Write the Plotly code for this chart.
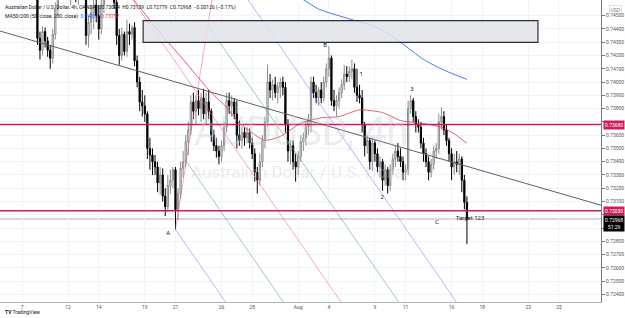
import plotly.graph_objects as go

# ---- data (AUD/USD 4h, OANDA) ----
# bar index: 6 bars per trading day, day 0 = Jul 6; first bar index = -2
first_bar = -2
bars_per_day = 6

close = [
    0.7528, 0.7530,
    0.7540, 0.7570, 0.7580, 0.7540, 0.7505, 0.7490,
    0.7495, 0.7500, 0.7478, 0.7470, 0.7482, 0.7485,
    0.7433, 0.7424, 0.7438, 0.7431, 0.7424, 0.7418,
    0.7436, 0.7455, 0.7468, 0.7472, 0.7478, 0.7480,
    0.7468, 0.7474, 0.7470, 0.7465, 0.7470, 0.7475,
    0.7495, 0.7435, 0.7445, 0.7452, 0.7458, 0.7450,
    0.7440, 0.7458, 0.7475, 0.7485, 0.7478, 0.7470,
    0.7460, 0.7435, 0.7420, 0.7436, 0.7423, 0.7438,
    0.7436, 0.7441, 0.7416, 0.7400, 0.7385, 0.7382,
    0.7376, 0.7350, 0.7345, 0.7340, 0.7336, 0.7324,
    0.7330, 0.7314, 0.7306, 0.7322, 0.7326, 0.7334,
    0.7304, 0.7316, 0.7335, 0.7340, 0.7355, 0.7364,
    0.7385, 0.7378, 0.7386, 0.7380, 0.7388, 0.7376,
    0.7385, 0.7378, 0.7360, 0.7352, 0.7348, 0.7344,
    0.7352, 0.7366, 0.7386, 0.7382, 0.7385, 0.7376,
    0.7360, 0.7356, 0.7362, 0.7358, 0.7362, 0.7354,
    0.7346, 0.7332, 0.7326, 0.7340, 0.7356, 0.7370,
    0.7400, 0.7394, 0.7398, 0.7392, 0.7396, 0.7400,
    0.7396, 0.7368, 0.7348, 0.7352, 0.7340, 0.7336,
    0.7344, 0.7355, 0.7358, 0.7366, 0.7372, 0.7400,
    0.7392, 0.7388, 0.7394, 0.7388, 0.7400, 0.7410,
    0.7418, 0.7386, 0.7382, 0.7386, 0.7392, 0.7398,
    0.7406, 0.7404, 0.7408, 0.7410, 0.7396, 0.7390,
    0.7388, 0.7368, 0.7352, 0.7356, 0.7340, 0.7354,
    0.7346, 0.7336, 0.7340, 0.7326, 0.7334, 0.7322,
    0.7334, 0.7342, 0.7348, 0.7344, 0.7340, 0.7332,
    0.7334, 0.7380, 0.7386, 0.7374, 0.7368, 0.7366,
    0.7354, 0.7346, 0.7340, 0.7332, 0.7338, 0.7348,
    0.7350, 0.7370, 0.7374, 0.7364, 0.7356, 0.7346,
    0.7336, 0.7340, 0.7338, 0.7342, 0.7326, 0.73094,
    0.72968,
]

open_ = [
    0.7525, 0.7528,
    0.7530, 0.7540, 0.7570, 0.7580, 0.7540, 0.7505,
    0.7490, 0.7495, 0.7500, 0.7478, 0.7470, 0.7482,
    0.7485, 0.7433, 0.7424, 0.7438, 0.7431, 0.7424,
    0.7418, 0.7436, 0.7455, 0.7468, 0.7472, 0.7478,
    0.7480, 0.7468, 0.7474, 0.7470, 0.7465, 0.7470,
    0.7475, 0.7495, 0.7435, 0.7445, 0.7452, 0.7458,
    0.7450, 0.7440, 0.7458, 0.7475, 0.7485, 0.7478,
    0.7470, 0.7460, 0.7435, 0.7420, 0.7436, 0.7423,
    0.7438, 0.7436, 0.7441, 0.7416, 0.7400, 0.7385,
    0.7382, 0.7376, 0.7350, 0.7345, 0.7340, 0.7336,
    0.7324, 0.7330, 0.7314, 0.7306, 0.7322, 0.7326,
    0.7334, 0.7304, 0.7316, 0.7335, 0.7340, 0.7355,
    0.7364, 0.7385, 0.7378, 0.7386, 0.7380, 0.7388,
    0.7376, 0.7385, 0.7378, 0.7360, 0.7352, 0.7348,
    0.7344, 0.7352, 0.7366, 0.7386, 0.7382, 0.7385,
    0.7376, 0.7360, 0.7356, 0.7362, 0.7358, 0.7362,
    0.7354, 0.7346, 0.7332, 0.7326, 0.7340, 0.7356,
    0.7370, 0.7400, 0.7394, 0.7398, 0.7392, 0.7396,
    0.7400, 0.7396, 0.7368, 0.7348, 0.7352, 0.7340,
    0.7336, 0.7344, 0.7355, 0.7358, 0.7366, 0.7372,
    0.7400, 0.7392, 0.7388, 0.7394, 0.7388, 0.7400,
    0.7410, 0.7418, 0.7386, 0.7382, 0.7386, 0.7392,
    0.7398, 0.7406, 0.7404, 0.7408, 0.7410, 0.7396,
    0.7390, 0.7388, 0.7368, 0.7352, 0.7356, 0.7340,
    0.7354, 0.7346, 0.7336, 0.7340, 0.7326, 0.7334,
    0.7322, 0.7334, 0.7342, 0.7348, 0.7344, 0.7340,
    0.7332, 0.7334, 0.7380, 0.7386, 0.7374, 0.7368,
    0.7366, 0.7354, 0.7346, 0.7340, 0.7332, 0.7338,
    0.7348, 0.7350, 0.7370, 0.7374, 0.7364, 0.7356,
    0.7346, 0.7336, 0.7340, 0.7338, 0.7342, 0.7326,
    0.73094,
]

high = [
    0.7532, 0.7535,
    0.7545, 0.7575, 0.7599, 0.7585, 0.7548, 0.7515,
    0.7500, 0.7510, 0.7505, 0.7490, 0.7488, 0.7492,
    0.7488, 0.7438, 0.7442, 0.7441, 0.7434, 0.7428,
    0.7440, 0.7460, 0.7475, 0.7480, 0.7485, 0.7488,
    0.7486, 0.7478, 0.7482, 0.7478, 0.7475, 0.7480,
    0.7500, 0.7505, 0.7450, 0.7458, 0.7462, 0.7468,
    0.7458, 0.7462, 0.7480, 0.7490, 0.7492, 0.7486,
    0.7478, 0.7464, 0.7440, 0.7441, 0.7438, 0.7447,
    0.7444, 0.7443, 0.7445, 0.7420, 0.7404, 0.7394,
    0.7390, 0.7378, 0.7358, 0.7350, 0.7345, 0.7340,
    0.7336, 0.7335, 0.7320, 0.7330, 0.7334, 0.7336,
    0.7336, 0.7320, 0.7340, 0.7348, 0.7360, 0.7370,
    0.7390, 0.7392, 0.7390, 0.7394, 0.7392, 0.7395,
    0.7392, 0.7394, 0.7380, 0.7364, 0.7358, 0.7352,
    0.7356, 0.7370, 0.7392, 0.7392, 0.7390, 0.7388,
    0.7386, 0.7371, 0.7366, 0.7366, 0.7366, 0.7365,
    0.7358, 0.7350, 0.7336, 0.7346, 0.7360, 0.7374,
    0.7413, 0.7406, 0.7402, 0.7404, 0.7400, 0.7403,
    0.7404, 0.7400, 0.7372, 0.7356, 0.7356, 0.7346,
    0.7348, 0.7360, 0.7362, 0.7370, 0.7376, 0.7404,
    0.7404, 0.7398, 0.7396, 0.7400, 0.7404, 0.7414,
    0.7427, 0.7420, 0.7394, 0.7390, 0.7396, 0.7402,
    0.7413, 0.7412, 0.7412, 0.7417, 0.7414, 0.7410,
    0.7398, 0.7394, 0.7370, 0.7360, 0.7358, 0.7358,
    0.7356, 0.7350, 0.7344, 0.7342, 0.7338, 0.7336,
    0.7338, 0.7346, 0.7352, 0.7354, 0.7350, 0.7344,
    0.7338, 0.7386, 0.7390, 0.7388, 0.7378, 0.7372,
    0.7370, 0.7358, 0.7350, 0.7344, 0.7342, 0.7352,
    0.7354, 0.7376, 0.7381, 0.7378, 0.7368, 0.7358,
    0.7350, 0.7346, 0.7348, 0.7346, 0.7344, 0.7330,
    0.73139,
]

low = [
    0.7518, 0.7520,
    0.7525, 0.7535, 0.7560, 0.7530, 0.7495, 0.7480,
    0.7482, 0.7485, 0.7470, 0.7462, 0.7465, 0.7475,
    0.7428, 0.7417, 0.7420, 0.7426, 0.7419, 0.7410,
    0.7414, 0.7432, 0.7450, 0.7462, 0.7465, 0.7470,
    0.7462, 0.7458, 0.7464, 0.7460, 0.7458, 0.7462,
    0.7470, 0.7428, 0.7426, 0.7436, 0.7440, 0.7445,
    0.7432, 0.7436, 0.7452, 0.7468, 0.7470, 0.7465,
    0.7455, 0.7428, 0.7413, 0.7416, 0.7420, 0.7419,
    0.7428, 0.7432, 0.7412, 0.7396, 0.7378, 0.7374,
    0.7370, 0.7342, 0.7334, 0.7330, 0.7330, 0.7317,
    0.7315, 0.7310, 0.7299, 0.7302, 0.7316, 0.7320,
    0.7289, 0.7296, 0.7312, 0.7328, 0.7336, 0.7345,
    0.7360, 0.7372, 0.7368, 0.7375, 0.7370, 0.7372,
    0.7368, 0.7372, 0.7355, 0.7348, 0.7343, 0.7338,
    0.7340, 0.7348, 0.7362, 0.7376, 0.7374, 0.7372,
    0.7350, 0.7352, 0.7350, 0.7352, 0.7354, 0.7350,
    0.7342, 0.7325, 0.7316, 0.7322, 0.7336, 0.7350,
    0.7366, 0.7388, 0.7386, 0.7388, 0.7384, 0.7388,
    0.7390, 0.7362, 0.7340, 0.7338, 0.7334, 0.7325,
    0.7330, 0.7340, 0.7348, 0.7352, 0.7360, 0.7362,
    0.7388, 0.7384, 0.7382, 0.7384, 0.7385, 0.7396,
    0.7404, 0.7382, 0.7378, 0.7374, 0.7380, 0.7388,
    0.7394, 0.7400, 0.7400, 0.7402, 0.7392, 0.7385,
    0.7384, 0.7362, 0.7344, 0.7346, 0.7334, 0.7333,
    0.7340, 0.7332, 0.7328, 0.7318, 0.7322, 0.7316,
    0.7318, 0.7330, 0.7336, 0.7340, 0.7336, 0.7326,
    0.7326, 0.7330, 0.7376, 0.7370, 0.7362, 0.7362,
    0.7350, 0.7340, 0.7336, 0.7326, 0.7328, 0.7334,
    0.7342, 0.7346, 0.7364, 0.7360, 0.7352, 0.7340,
    0.7326, 0.7330, 0.7332, 0.7330, 0.7317, 0.7304,
    0.72779,
]

# moving averages (bar index, value)
ma_red_bar = [48, 53, 60, 69, 80, 86, 91, 98, 101, 107, 115, 123, 130, 138, 147, 154, 162, 170, 175, 180]
ma_red_val = [0.7466, 0.7454, 0.7437, 0.7417, 0.7392, 0.7381, 0.7369, 0.7359, 0.7356, 0.7359,
              0.7369, 0.7373, 0.7374, 0.7379, 0.7377, 0.7371, 0.7369, 0.7366, 0.7361, 0.7354]
ma_blue_bar = [113, 122, 135, 145, 154, 163, 171, 180]
ma_blue_val = [0.7466, 0.7455, 0.7447, 0.7441, 0.7430, 0.7417, 0.7409, 0.7402]

# drawings
h_levels = [0.73680, 0.73030]
trend_pts_day = [-0.44, 38.74]
trend_pts_val = [0.74384, 0.73072]
rect_day = [8.89, 34.63]
rect_val = [0.74299, 0.74462]
pf_day = [0.33, 11.0, 13.82]      # pitchfork anchors P0, P1, P2
pf_val = [0.7594, 0.7289, 0.7494]
label_text = ["A", "B", "1", "2", "3", "C", "Target 123"]
label_day = [10.52, 20.75, 23.1, 24.47, 26.42, 28.05, 30.2]
label_val = [0.72861, 0.74279, 0.74060, 0.73133, 0.73947, 0.72944, 0.72974]
last_price = 0.72968

tick_days = [1, 4, 6, 9, 11, 14, 16, 19, 21, 24, 26, 29, 31, 34, 36]
tick_labels = ["7", "12", "14", "19", "21", "26", "28", "Aug", "4", "9", "11", "16", "18", "23", "25"]
price_ticks = [round(0.724 + 0.001 * k, 3) for k in range(22)]
hidden_price_ticks = [0.737, 0.730, 0.729]   # covered by the level / price tags on the scale

# ---- figure ----
x = [(first_bar + i) / bars_per_day for i in range(len(close))]
fig = go.Figure()

# pitchfork
p0 = (pf_day[0], pf_val[0]); p1 = (pf_day[1], pf_val[1]); p2 = (pf_day[2], pf_val[2])
mid = ((p1[0] + p2[0]) / 2, (p1[1] + p2[1]) / 2)
dvec = (mid[0] - p0[0], mid[1] - p0[1])
half = ((p2[0] - p1[0]) / 2, (p2[1] - p1[1]) / 2)
pf_colors = {-1: "rgba(120,123,255,0.55)", -0.5: "rgba(76,175,80,0.55)", 0: "rgba(240,98,146,0.55)",
             0.5: "rgba(76,175,80,0.55)", 1: "rgba(120,123,255,0.55)"}
for t, col in pf_colors.items():
    sx = mid[0] + t * half[0]
    sy = mid[1] + t * half[1]
    if t == 0:
        sx, sy = p0
    ex = mid[0] + t * half[0] + 3 * dvec[0]
    ey = mid[1] + t * half[1] + 3 * dvec[1]
    fig.add_trace(go.Scatter(x=[sx, ex], y=[sy, ey], mode="lines",
                             line=dict(color=col, width=1), hoverinfo="skip", showlegend=False))
fig.add_trace(go.Scatter(x=[p1[0], p2[0]], y=[p1[1], p2[1]], mode="lines",
                         line=dict(color="rgba(240,98,146,0.55)", width=1), hoverinfo="skip", showlegend=False))

# trend line
fig.add_trace(go.Scatter(x=trend_pts_day, y=trend_pts_val, mode="lines",
                         line=dict(color="#5d606b", width=1), hoverinfo="skip", showlegend=False))

# moving averages
fig.add_trace(go.Scatter(x=[b / bars_per_day for b in ma_red_bar], y=ma_red_val, mode="lines",
                         line=dict(color="rgba(220,60,60,0.8)", width=1, shape="spline", smoothing=0.6),
                         hoverinfo="skip", showlegend=False))
fig.add_trace(go.Scatter(x=[b / bars_per_day for b in ma_blue_bar], y=ma_blue_val, mode="lines",
                         line=dict(color="rgba(41,98,255,0.85)", width=1, shape="spline", smoothing=0.6),
                         hoverinfo="skip", showlegend=False))

# candles
fig.add_trace(go.Candlestick(
    x=x, open=open_, high=high, low=low, close=close,
    increasing=dict(line=dict(color="#8a8a8a", width=1), fillcolor="#ffffff"),
    decreasing=dict(line=dict(color="#000000", width=1), fillcolor="#000000"),
    whiskerwidth=0, showlegend=False, hoverinfo="skip"))

# labels
fig.add_trace(go.Scatter(x=label_day, y=label_val, mode="text", text=label_text,
                         textfont=dict(size=6, color="#131722", family="Roboto"),
                         hoverinfo="skip", showlegend=False))

shapes = []
# current price line
shapes.append(dict(type="line", xref="paper", x0=0, x1=1, yref="y", y0=last_price, y1=last_price,
                   line=dict(color="rgba(170,170,170,0.45)", width=2), layer="below"))
for lv in h_levels:
    shapes.append(dict(type="line", xref="paper", x0=0, x1=1, yref="y", y0=lv, y1=lv,
                       line=dict(color="#cc1f5a", width=1.5)))
shapes.append(dict(type="rect", xref="x", yref="y", x0=rect_day[0], x1=rect_day[1],
                   y0=rect_val[0], y1=rect_val[1], fillcolor="rgba(225,227,234,0.85)",
                   line=dict(color="#2a2e39", width=1.2)))

annotations = []
# watermark
annotations.append(dict(text="AUDUSD, 4h", xref="paper", yref="paper", x=0.5, y=0.563, yanchor="middle",
                        showarrow=False, font=dict(size=40, color="rgba(200,203,210,0.35)", family="Roboto")))
annotations.append(dict(text="Australian Dollar / U.S. Dollar", xref="paper", yref="paper", x=0.5, y=0.43,
                        yanchor="middle",
                        showarrow=False, font=dict(size=17, color="rgba(200,203,210,0.35)", family="Roboto")))
# header
annotations.append(dict(text="Australian Dollar / U.S. Dollar, 4h, OANDA  O0.73094  H0.73139  L0.72779  C0.72968  −0.00126 (−0.17%)",
                        xref="paper", yref="paper", x=0.005, y=0.995, xanchor="left", yanchor="top",
                        showarrow=False, font=dict(size=5, color="#131722", family="Roboto")))
annotations.append(dict(text="MA50/200 (50, close, 200, close)  <span style='color:#2962ff'>0.74011</span>  <span style='color:#e53935'>0.73757</span>",
                        xref="paper", yref="paper", x=0.005, y=0.963, xanchor="left", yanchor="top",
                        showarrow=False, font=dict(size=5, color="#131722", family="Roboto")))
# axis price labels
for lv in h_levels:
    annotations.append(dict(text="%.5f" % lv, xref="paper", yref="y", x=1.0, y=lv, xanchor="left",
                            showarrow=False, bgcolor="#cc1f5a", font=dict(size=5, color="white", family="Roboto"),
                            borderpad=1, xshift=2))
annotations.append(dict(text="%.5f<br>51:29" % last_price, xref="paper", yref="y", x=1.0, y=last_price,
                        xanchor="left", yanchor="top", yshift=4, showarrow=False, bgcolor="#000000",
                        font=dict(size=5, color="white", family="Roboto"), borderpad=1, xshift=2))
annotations.append(dict(text="USD", xref="paper", yref="paper", x=1.0, y=0.985, xanchor="left", yanchor="top",
                        showarrow=False, font=dict(size=5, color="#787b86", family="Roboto"),
                        bordercolor="#c0c3cc", borderwidth=0.5, borderpad=1, xshift=8))
annotations.append(dict(text="<b>TV</b> TradingView", xref="paper", yref="paper", x=0.005, y=-0.034,
                        xanchor="left", yanchor="middle", showarrow=False,
                        font=dict(size=5, color="#131722", family="Roboto")))

price_text = ["" if round(v, 3) in hidden_price_ticks else "%.5f" % v for v in price_ticks]

fig.update_layout(
    width=625, height=318, margin=dict(l=0, r=24, t=0, b=16),
    paper_bgcolor="white", plot_bgcolor="white",
    shapes=shapes, annotations=annotations, showlegend=False,
    xaxis=dict(range=[-0.44, 38.74], tickvals=tick_days, ticktext=tick_labels,
               showgrid=True, gridcolor="#f0f3fa", gridwidth=1, zeroline=False,
               showline=True, linecolor="#b2b5be", ticks="", rangeslider=dict(visible=False),
               tickfont=dict(size=5, color="#555", family="Roboto")),
    yaxis=dict(range=[0.72343, 0.74618], side="right", tickvals=price_ticks, ticktext=price_text,
               showgrid=True, gridcolor="#f0f3fa", gridwidth=1, zeroline=False,
               showline=True, linecolor="#787b86", ticks="outside", ticklen=3, tickcolor="#787b86",
               tickfont=dict(size=5, color="#555", family="Roboto")),
)

fig.write_html("out.html")
